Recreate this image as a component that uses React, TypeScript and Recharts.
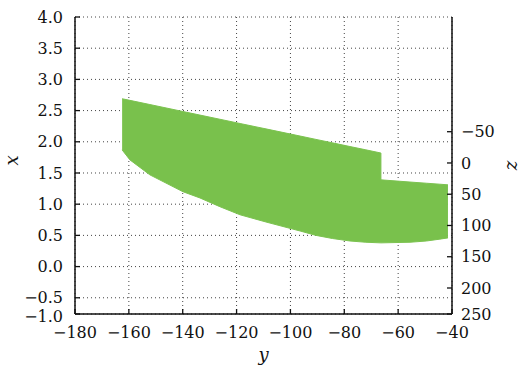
import React from 'react';
import { ComposedChart, Area, XAxis, YAxis, CartesianGrid, Label } from 'recharts';

// horizontal variable "y"
const yValues = [-162.5, -159.6, -152.2, -139.9, -133.6, -126.2, -118.7, -108.7, -96.4, -90.5, -84.4, -77.9, -72.0, -66.4, -66.4, -55.6, -49.5, -44.5, -41.5];
// lower and upper boundary of the filled region in "x"
const xLow = [1.87, 1.71, 1.47, 1.2, 1.1, 0.96, 0.83, 0.71, 0.57, 0.5, 0.45, 0.41, 0.39, 0.38, 0.38, 0.39, 0.41, 0.44, 0.46];
const xHigh = [2.69, 2.664, 2.597, 2.485, 2.428, 2.361, 2.293, 2.203, 2.092, 2.038, 1.983, 1.924, 1.871, 1.82, 1.39, 1.355, 1.336, 1.32, 1.31];

const yTicks = [-180, -160, -140, -120, -100, -80, -60, -40];
const yTickLabels = ['−180', '−160', '−140', '−120', '−100', '−80', '−60', '−40'];
const xTicks = [-0.76, -0.5, 0, 0.5, 1, 1.5, 2, 2.5, 3, 3.5, 4];
const xTickLabels = ['−1.0', '−0.5', '0.0', '0.5', '1.0', '1.5', '2.0', '2.5', '3.0', '3.5', '4.0'];
const zTicks = [-50, 0, 50, 100, 150, 200, 241.6];
const zTickLabels = ['−50', '0', '50', '100', '150', '200', '250'];

const data = yValues.map((y, i) => ({ y, range: [xLow[i], xHigh[i]] }));

const FONT = "'DejaVu Serif', serif";
const INK = '#111';
const FS = 16;

const labelFor = (ticks: number[], labels: string[], v: number) => {
  const i = ticks.findIndex((t) => Math.abs(t - v) < 1e-6);
  return i >= 0 ? labels[i] : String(v);
};

const LeftTick = (props: any) => {
  const { x, y, payload } = props;
  const m = 12;
  const isBottom = Math.abs(payload.value - xTicks[0]) < 1e-6;
  return (
    <g>
      <line x1={x + m} y1={y} x2={x + m + 5} y2={y} stroke={INK} strokeWidth={1.3} />
      <text x={x} y={y + (isBottom ? 2 : 0)} dy="0.35em" textAnchor="end" fontFamily={FONT} fontSize={FS} fill={INK}>
        {labelFor(xTicks, xTickLabels, payload.value)}
      </text>
    </g>
  );
};

const RightTick = (props: any) => {
  const { x, y, payload } = props;
  const m = 9;
  return (
    <g>
      <line x1={x - m} y1={y} x2={x - m - 5} y2={y} stroke={INK} strokeWidth={1.3} />
      <text x={x} y={y} dy="0.35em" textAnchor="start" fontFamily={FONT} fontSize={FS} fill={INK}>
        {labelFor(zTicks, zTickLabels, payload.value)}
      </text>
    </g>
  );
};

const BottomTick = (props: any) => {
  const { x, y, payload } = props;
  const m = 13;
  return (
    <g>
      <line x1={x} y1={y - m} x2={x} y2={y - m - 5} stroke={INK} strokeWidth={1.3} />
      <text x={x} y={y} dy="0.71em" textAnchor="middle" fontFamily={FONT} fontSize={FS} fill={INK}>
        {labelFor(yTicks, yTickLabels, payload.value)}
      </text>
    </g>
  );
};

export default function App() {
  return (
    <div style={{ position: 'absolute', left: 0, top: 0, background: '#fff' }}>
      <ComposedChart
        width={524}
        height={369}
        data={data}
        margin={{ top: 17, left: 25, right: 22, bottom: 25 }}
      >
        <CartesianGrid yAxisId="left" stroke="#444" strokeDasharray="1 3" strokeWidth={1} />
        <XAxis
          type="number"
          dataKey="y"
          domain={[-180, -40]}
          ticks={yTicks}
          allowDataOverflow
          height={30}
          tickSize={0}
          tickMargin={13}
          tick={<BottomTick />}
          axisLine={{ stroke: INK, strokeWidth: 1.5 }}
          interval={0}
        >
          <Label value="y" position="center" dy={26} fontFamily={FONT} fontStyle="italic" fontSize={18} fill={INK} />
        </XAxis>
        <YAxis
          yAxisId="left"
          type="number"
          domain={[-0.76, 4]}
          ticks={xTicks}
          allowDataOverflow
          width={50}
          tickSize={0}
          tickMargin={12}
          tick={<LeftTick />}
          axisLine={{ stroke: INK, strokeWidth: 1.5 }}
          interval={0}
        >
          <Label value="x" position="center" angle={-90} dx={-38} dy={-5} fontFamily={FONT} fontStyle="italic" fontSize={18} fill={INK} />
        </YAxis>
        <YAxis
          yAxisId="z"
          orientation="right"
          type="number"
          domain={[-233.5, 241.6]}
          reversed
          ticks={zTicks}
          allowDataOverflow
          width={50}
          tickSize={0}
          tickMargin={9}
          tick={<RightTick />}
          axisLine={{ stroke: INK, strokeWidth: 1.5 }}
          interval={0}
        >
          <Label value="z" position="center" angle={90} dx={36} dy={0} fontFamily={FONT} fontStyle="italic" fontSize={18} fill={INK} />
        </YAxis>
        <Area
          yAxisId="left"
          type="linear"
          dataKey="range"
          stroke="#7cc350"
          strokeWidth={1}
          fill="#79c14c"
          fillOpacity={1}
          isAnimationActive={false}
          dot={false}
          activeDot={false}
        />
      </ComposedChart>
    </div>
  );
}
